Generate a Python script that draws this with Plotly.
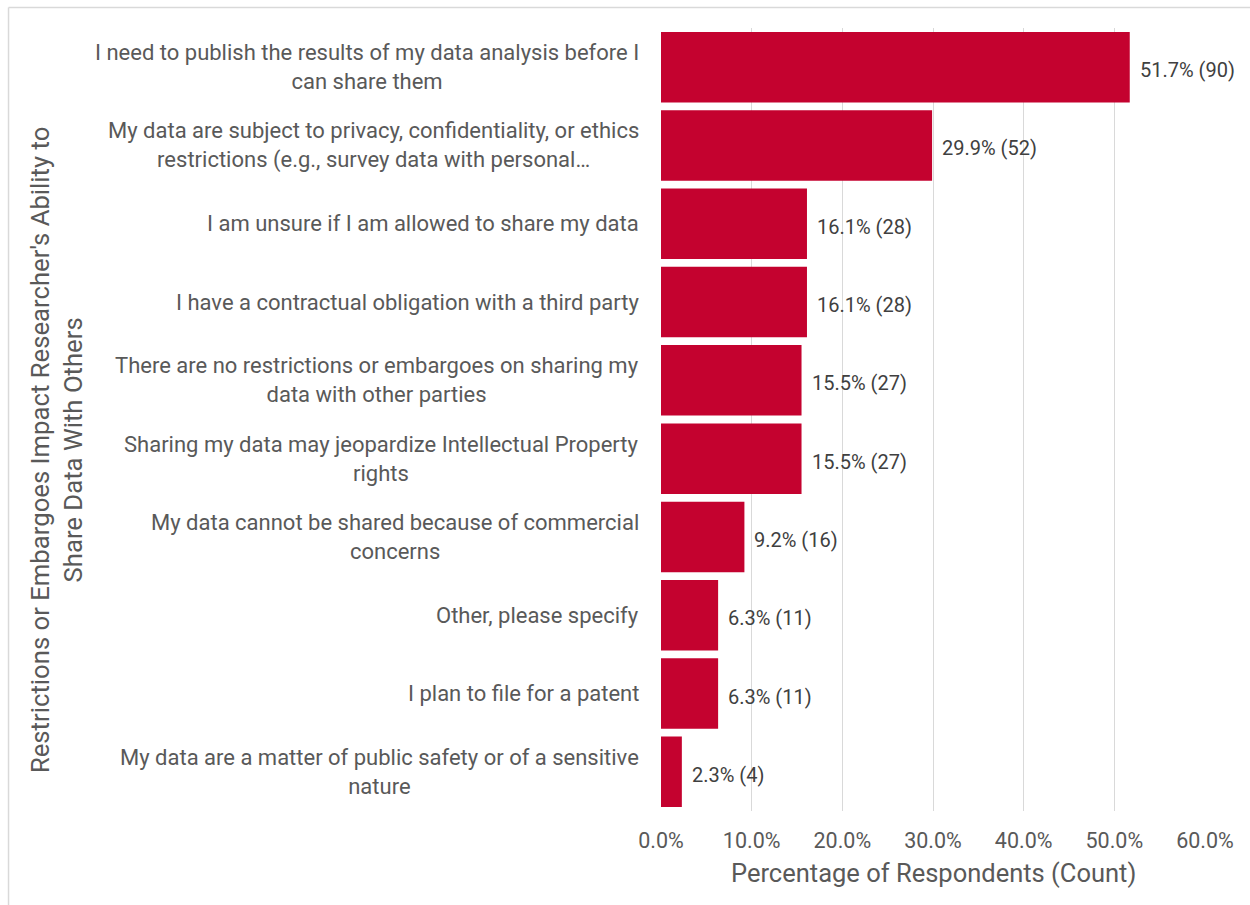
import plotly.graph_objects as go

categories = [
    "I need to publish the results of my data analysis before I<br>can share them",
    "My data are subject to privacy, confidentiality, or ethics<br>restrictions (e.g., survey data with personal…",
    "I am unsure if I am allowed to share my data",
    "I have a contractual obligation with a third party",
    "There are no restrictions or embargoes on sharing my<br>data with other parties",
    "Sharing my data may jeopardize Intellectual Property<br>rights",
    "My data cannot be shared because of commercial<br>concerns",
    "Other, please specify",
    "I plan to file for a patent",
    "My data are a matter of public safety or of a sensitive<br>nature",
]
percentages = [51.7, 29.9, 16.1, 16.1, 15.5, 15.5, 9.2, 6.3, 6.3, 2.3]
counts = [90, 52, 28, 28, 27, 27, 16, 11, 11, 4]
tick_values = [0, 10, 20, 30, 40, 50, 60]

FONT = "Roboto"
BAR_COLOR = "#C4022F"
TEXT_GRAY = "#595959"

ids = list(range(len(categories)))

fig = go.Figure(
    go.Bar(
        x=percentages,
        y=ids,
        orientation="h",
        marker=dict(color=BAR_COLOR, line=dict(width=0)),
        hoverinfo="skip",
    )
)

annotations = []
# category labels, centred line-by-line and right-anchored next to the axis
for i, cat in enumerate(categories):
    annotations.append(dict(
        x=0, xref="paper", y=i, yref="y",
        text=cat, showarrow=False, xanchor="right", yanchor="middle",
        align="center", xshift=-20,
        font=dict(family=FONT, size=22, color=TEXT_GRAY),
    ))
# value labels at the end of each bar
for i, (p, c) in enumerate(zip(percentages, counts)):
    annotations.append(dict(
        x=p, xref="x", y=i, yref="y", yshift=-3,
        text=f"{p:.1f}% ({c})", showarrow=False, xanchor="left", yanchor="middle",
        xshift=8,
        font=dict(family=FONT, size=20, color="#404040"),
    ))
# axis titles
annotations.append(dict(
    x=-1.112, xref="paper", y=0.461, yref="paper",
    text="Restrictions or Embargoes Impact Researcher's Ability to<br>Share Data With Others",
    textangle=-90, showarrow=False, xanchor="center", yanchor="middle", align="center",
    font=dict(family=FONT, size=25.7, color=TEXT_GRAY),
))
annotations.append(dict(
    x=0.5, xref="paper", y=-0.0792, yref="paper",
    text="Percentage of Respondents (Count)",
    showarrow=False, xanchor="center", yanchor="middle",
    font=dict(family=FONT, size=25.5, color=TEXT_GRAY),
))

fig.update_layout(
    width=1250, height=905,
    margin=dict(l=661, r=45, t=28, b=94),
    paper_bgcolor="white", plot_bgcolor="white",
    showlegend=False,
    bargap=0.1,
    annotations=annotations,
    shapes=[
        # light frame around the chart
        dict(type="line", xref="paper", yref="paper",
             x0=-1.1994, x1=1.2, y0=1.0262, y1=1.0262,
             line=dict(color="#D9D9D9", width=1.5)),
        dict(type="line", xref="paper", yref="paper",
             x0=-1.1994, x1=-1.1994, y0=1.0262, y1=-0.2,
             line=dict(color="#D9D9D9", width=1.5)),
    ],
    xaxis=dict(
        range=[0, 60], tickvals=tick_values,
        ticktext=[f"{v:.1f}%" for v in tick_values],
        showgrid=True, gridcolor="#D9D9D9", gridwidth=1,
        zeroline=False, showline=False, ticks="",
        ticklabelstandoff=14,
        tickfont=dict(family=FONT, size=21.5, color=TEXT_GRAY),
        fixedrange=True,
    ),
    yaxis=dict(
        range=[len(categories) - 0.5, -0.5],
        showticklabels=False, showgrid=False, zeroline=False,
        showline=False, ticks="", fixedrange=True,
    ),
)

fig.write_html("out.html")
